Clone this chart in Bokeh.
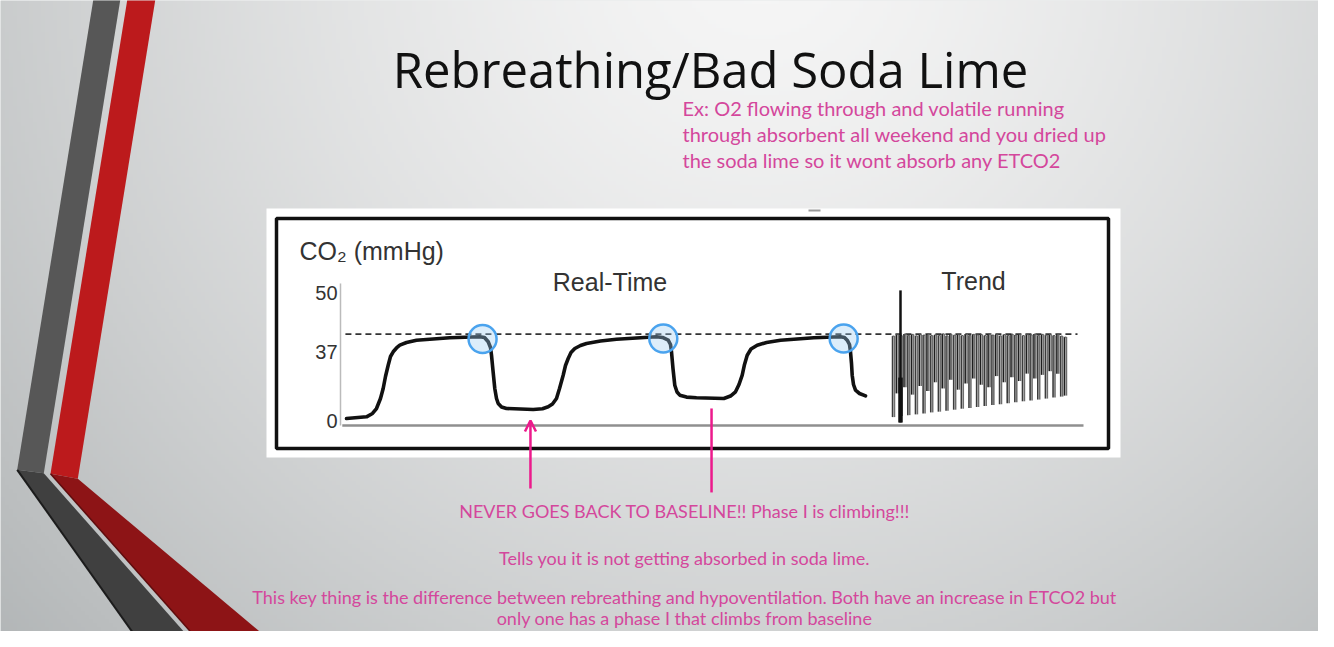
import numpy as np
from bokeh.plotting import figure
from bokeh.models import Range1d, Arrow, OpenHead
from bokeh.core.properties import value
from bokeh.embed import file_html
from bokeh.resources import INLINE

# ---------------- data ----------------
time_s = [0.000, 0.556, 0.722, 0.833, 0.944, 1.019, 1.083, 1.158, 1.222, 1.297,
          1.389, 1.481, 1.667, 1.944, 2.869, 3.703, 3.833, 3.936, 4.000, 4.028,
          4.069, 4.119, 4.167, 4.214, 4.306, 4.444, 5.186, 5.444, 5.603, 5.722,
          5.833, 5.917, 6.019, 6.083, 6.158, 6.236, 6.342, 6.500, 6.667, 7.056,
          7.500, 8.611, 8.778, 8.936, 9.000, 9.028, 9.069, 9.119, 9.181, 9.258,
          9.444, 9.722, 10.481, 10.667, 10.806, 10.903, 10.992, 11.056, 11.131, 11.236,
          11.408, 11.667, 12.056, 12.981, 13.722, 13.833, 13.908, 13.972, 14.000, 14.028,
          14.047, 14.083, 14.139, 14.250, 14.417]
co2_mmHg = [2.83, 3.52, 4.86, 6.88, 10.93, 14.98, 19.84, 24.41, 27.94, 29.84,
            31.38, 32.51, 33.60, 34.53, 35.51, 35.91, 35.63, 33.89, 31.58, 28.46,
            22.27, 14.98, 10.93, 8.91, 7.49, 6.88, 6.48, 6.80, 7.57, 8.70,
            10.93, 14.98, 20.36, 24.29, 27.13, 29.55, 31.17, 32.39, 33.20, 34.21,
            34.94, 35.91, 35.63, 34.53, 32.79, 29.84, 23.08, 16.32, 13.56, 12.27,
            11.50, 11.21, 10.93, 11.94, 13.64, 16.60, 20.36, 24.70, 28.46, 30.97,
            32.51, 33.60, 34.53, 35.51, 35.91, 35.63, 34.53, 32.79, 29.84, 25.10,
            20.36, 16.60, 14.29, 12.96, 12.02]
ytick_values = [0, 37, 50]
ytick_labels = ["0", "37", "50"]
reference_co2 = 37
peak_circle_t = [3.78, 8.80, 13.81]
peak_circle_co2 = [35.0, 35.2, 35.2]
annot_t = [5.11, 10.14]

trend_breath = list(range(1, 47))
trend_max = [36.2, 36.8, 36.4, 37.0, 36.5, 36.9, 36.3, 36.8, 36.6, 37.0,
             36.4, 36.7, 36.5, 37.1, 36.3, 36.9, 36.6, 36.8, 36.4, 37.0,
             36.5, 36.9, 36.7, 36.8, 36.4, 37.0, 36.6, 36.9, 36.3, 36.8,
             36.5, 37.0, 36.6, 36.9, 36.4, 36.8, 36.7, 37.0, 36.5, 36.9,
             36.6, 36.8, 36.4, 36.9, 36.2, 35.8]
trend_min = [3.4, 13.0, 3.8, 15.5, 4.2, 12.5, 4.5, 16.0, 4.9, 14.0,
             5.3, 17.5, 5.6, 15.0, 6.0, 18.5, 6.4, 14.5, 6.8, 17.0,
             7.1, 19.0, 7.5, 16.5, 7.9, 15.5, 8.3, 20.0, 8.6, 17.5,
             9.0, 19.5, 9.4, 18.0, 9.8, 21.0, 10.1, 19.0, 10.5, 20.5,
             10.9, 22.0, 11.3, 21.0, 11.7, 12.1]
trend_cursor_breath = 2.83

title_text = "Rebreathing/Bad Soda Lime"
example_lines = ["Ex: O2 flowing through and volatile running",
                 "through absorbent all weekend and you dried up",
                 "the soda lime so it wont absorb any ETCO2"]
note_lines = ["NEVER GOES BACK TO BASELINE!! Phase I is climbing!!!",
              "Tells you it is not getting absorbed in soda lime.",
              "This key thing is the difference between rebreathing and hypoventilation. Both have an increase in ETCO2 but",
              "only one has a phase I that climbs from baseline"]

# ---------------- layout helpers ----------------
W, H = 1318, 631
PAGE_H = 647


def Y(ry):
    return PAGE_H - ry


# chart scale: screen px = 346 + 36 * t ; screen py = 425 - 2.47 * co2
T0, TPX = 346.0, 36.0
C0, CPX = 425.0, 2.47
B0, BPX = 893.0, 3.822

p = figure(width=W, height=H, x_range=Range1d(0, W), y_range=Range1d(Y(H), Y(0)),
           output_backend="svg", toolbar_location=None, min_border=0,
           x_axis_location=None, y_axis_location=None)
p.grid.visible = False
p.outline_line_color = None
p.background_fill_color = "#d8dbdc"
p.border_fill_color = "#d8dbdc"
p.extra_x_ranges = {
    "time": Range1d((0 - T0) / TPX, (W - T0) / TPX),
    "trend": Range1d(1 - (B0 - 0) / BPX, 1 + (W - B0) / BPX),
}
p.extra_y_ranges = {"co2": Range1d((C0 - H) / CPX, (C0 - 0) / CPX)}

# ---------------- background gradient ----------------
ny, nx = 160, 330
gx = np.linspace(0, W, nx)
gy = np.linspace(H, 0, ny)  # row 0 = bottom of the page
GX, GY = np.meshgrid(gx, gy)
d = np.sqrt((GX - 760) ** 2 + (GY + 50) ** 2)
tt = np.clip(d / 926.0, 0, 1.15) ** 1.4
v = 246 - 54 * tt
r = np.clip(v - 4 * tt, 0, 255).astype(np.uint32)
g = np.clip(v - 1 * tt, 0, 255).astype(np.uint32)
b = np.clip(v, 0, 255).astype(np.uint32)
img = (255 << 24) | (b << 16) | (g << 8) | r
p.image_rgba(image=[img.astype(np.uint32)], x=0, y=Y(H), dw=W, dh=H)

# ---------------- decorative stripes ----------------
p.patch([93, 120, 43.3, 16.7], [Y(-2), Y(-2), Y(472.7), Y(469.3)], fill_color="#575757", line_color=None)
p.patch([16.7, 43.3, 200, 145], [Y(469.3), Y(472.7), Y(650), Y(650)], fill_color="#404040", line_color=None)
p.line([16.7, 145], [Y(469.3), Y(650)], line_color="#1c1c1c", line_width=2)
p.patch([127, 155, 77.3, 50], [Y(-2), Y(-2), Y(478.3), Y(473.3)], fill_color="#bc1a1c", line_color=None)
p.patch([50, 77.3, 281.7, 206.7], [Y(473.3), Y(478.3), Y(650), Y(650)], fill_color="#8d1416", line_color=None)
p.line([50, 206.7], [Y(473.3), Y(650)], line_color="#5e0c0d", line_width=1.5)

# ---------------- chart panel ----------------
p.quad(left=266, right=1120, top=Y(208), bottom=Y(457), fill_color="white", line_color=None)
p.quad(left=276, right=1108, top=Y(218), bottom=Y(448), fill_color=None, line_color="#111111", line_width=3.5)
p.line([808, 820], [Y(210), Y(210)], line_color="#999999", line_width=2)

TR = dict(x_range_name="time", y_range_name="co2")
BR = dict(x_range_name="trend", y_range_name="co2")

axis_t = (340 - T0) / TPX
p.line([axis_t, axis_t], [0, 57.5], line_color="#bbbbbb", line_width=1.5, **TR)
p.line([axis_t + 0.05, (1083 - T0) / TPX], [0, 0], line_color="#8f8f8f", line_width=2.5, **TR)
p.line([-0.03, (1077 - T0) / TPX], [reference_co2, reference_co2], line_color="#333333",
       line_width=1.6, line_dash="6 4", **TR)

# trend bars: each breath drawn as a close pair of strokes (rise and fall)
lo_b, lo_min, lo_max = trend_breath[0::2], trend_min[0::2], trend_max[0::2]
hi_b, hi_min, hi_max = trend_breath[1::2], trend_min[1::2], trend_max[1::2]
off = 0.25
for bs, mins, maxs, dark in [(lo_b, lo_min, lo_max, "#3c3c3c"), (hi_b, hi_min, hi_max, "#1e1e1e")]:
    left = [bb - off for bb in bs]
    right = [bb + off for bb in bs]
    p.segment(x0=left, y0=mins, x1=left, y1=maxs, line_color=dark, line_width=1.6, **BR)
    p.segment(x0=right, y0=mins, x1=right, y1=maxs, line_color="#6e6e6e", line_width=1.6, **BR)
    p.segment(x0=left, y0=maxs, x1=right, y1=maxs, line_color="#555555", line_width=1.0, **BR)
p.line([trend_cursor_breath] * 2, [1.2, 54.7], line_color="#111111", line_width=2.5, **BR)
p.line([trend_cursor_breath] * 2, [1.2, 19.4], line_color="#111111", line_width=4.5, **BR)

# real-time capnogram
p.line(time_s, co2_mmHg, line_color="#111111", line_width=3.6, line_join="round", line_cap="round", **TR)
p.scatter(peak_circle_t, peak_circle_co2, size=28, marker="circle", fill_color="#9ccbf2",
          fill_alpha=0.35, line_color="#4aa3ee", line_width=2.5, **TR)

# tick labels
tick_dy = [-5, 18, -9.5]
for val, lab, dy in zip(ytick_values, ytick_labels, tick_dy):
    p.text(x=[axis_t], y=[val], text=[lab], x_offset=-3, y_offset=dy, text_align="right",
           text_baseline="middle", text_font=value("Liberation Sans"), text_font_size="20px",
           text_color="#333333", **TR)

chart_font = value("Liberation Sans")
p.text(x=[299], y=[Y(250)], text=["CO\u2082 (mmHg)"], text_align="left", text_baseline="middle",
       text_font=chart_font, text_font_size="25px", text_color="#333333")
p.text(x=[609.5], y=[Y(281)], text=["Real-Time"], text_align="center", text_baseline="middle",
       text_font=chart_font, text_font_size="25px", text_color="#333333")
p.text(x=[973], y=[Y(280)], text=["Trend"], text_align="center", text_baseline="middle",
       text_font=chart_font, text_font_size="25px", text_color="#333333")

# ---------------- pink annotations ----------------
PINK = "#ec1a8c"
TXT = "#d4479c"
p.add_layout(Arrow(end=OpenHead(size=11, line_color=PINK, line_width=2.5),
                   x_start=annot_t[0], y_start=-25.5, x_end=annot_t[0], y_end=2.0,
                   line_color=PINK, line_width=2.5, **TR))
p.line([annot_t[1], annot_t[1]], [6.9, -27.1], line_color=PINK, line_width=2.5, **TR)

# ---------------- texts ----------------
p.text(x=[710], y=[Y(68)], text=[title_text], text_align="center", text_baseline="middle",
       text_font=value("Open Sans"), text_font_size="49px", text_color="#111111")
for i, line in enumerate(example_lines):
    p.text(x=[682], y=[Y(107 + 26 * i)], text=[line], text_align="left", text_baseline="middle",
           text_font=value("Lato"), text_font_size="20px", text_color=TXT)
for line, ry in zip(note_lines, [510, 557, 596, 617]):
    p.text(x=[684], y=[Y(ry)], text=[line], text_align="center", text_baseline="middle",
           text_font=value("Lato"), text_font_size="18px", text_color=TXT)

open("out.html", "w").write(file_html(p, INLINE))
